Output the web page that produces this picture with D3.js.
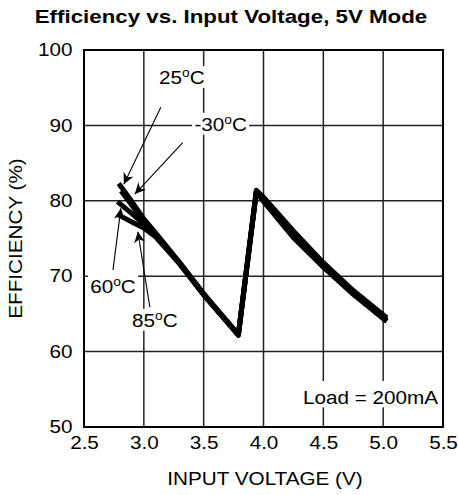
<!DOCTYPE html>
<html>
<head>
<meta charset="utf-8">
<script src="https://cdn.jsdelivr.net/npm/d3@7"></script>
<style>
    body { margin: 0; background: #fff; }
    svg text { font-family: "Liberation Sans", Arial, sans-serif; fill: #000; }
</style>
</head>
<body>
<div id="chart"></div>
<script>
// input voltage (V) and efficiency (%) for each temperature
var volt25 = [2.79, 2.9, 3.0, 3.1, 3.3, 3.5, 3.79, 3.94, 4.0, 4.25, 4.5, 4.75, 5.03];
var eff25 = [82.3, 79.9, 77.6, 75.7, 71.8, 67.7, 62.3, 81.4, 80.5, 76.0, 71.8, 68.1, 64.5];
var voltM30 = [2.81, 2.9, 3.0, 3.1, 3.3, 3.5, 3.79, 3.94, 4.0, 4.25, 4.5, 4.75, 5.03];
var effM30 = [81.3, 79.4, 77.2, 75.5, 71.7, 67.6, 62.2, 81.3, 80.2, 75.6, 71.5, 67.8, 64.2];
var volt60 = [2.78, 2.9, 3.0, 3.1, 3.3, 3.5, 3.79, 3.94, 4.0, 4.25, 4.5, 4.75, 5.03];
var eff60 = [79.9, 78.3, 76.9, 75.4, 71.7, 67.6, 62.2, 81.2, 80.0, 75.3, 71.3, 67.7, 64.1];
var volt85 = [2.78, 2.9, 3.0, 3.1, 3.3, 3.5, 3.79, 3.94, 4.0, 4.25, 4.5, 4.75, 5.03];
var eff85 = [78.2, 77.2, 76.4, 75.2, 71.6, 67.5, 62.2, 81.1, 79.9, 75.1, 71.2, 67.6, 64.0];

// axis ticks
var xTicks = [2.5, 3.0, 3.5, 4.0, 4.5, 5.0, 5.5];
var yTicks = [50, 60, 70, 80, 90, 100];

// temperature labels and arrows, in (V, %)
var tempNames = ["25", "-30", "60", "85"];
var tempLabelAt = [[3.317, 96.4], [3.642, 90.2], [2.742, 68.7], [3.092, 64.2]];
var tempArrowFrom = [[3.142, 92.4], [3.325, 87.7], [2.742, 70.8], [3.05, 65.9]];
var tempArrowTo = [[2.833, 82.2], [2.925, 80.9], [2.808, 79.0], [2.95, 75.9]];

window.onload = function() {
    var width = 458;
    var height = 495;
    var padding = {top: 50, bottom: 68, left: 84, right: 15};
    var fs = "18px";
    var sx = 1.15; // the lettering in the original is a bit wide

    var svg = d3.select("#chart").append("svg")
        .attr("width", width).attr("height", height);

    var xscale = d3.scaleLinear().domain([2.5, 5.5])
        .range([padding.left, width - padding.right]);
    var yscale = d3.scaleLinear().domain([50, 100])
        .range([height - padding.bottom, padding.top]);

    // put a text at x,y, stretched
    function label(parent, x, y, rot, stretch) {
        return parent.append("text")
            .attr("transform", "translate(" + x + "," + y + ")" + (rot ? " rotate(" + rot + ")" : "") +
                " scale(" + (stretch || sx) + ",1)")
            .style("font-size", fs);
    }

    // grid
    svg.append("g").selectAll("line").data(xTicks.slice(1, -1)).enter().append("line")
        .attr("x1", function(d) { return xscale(d); })
        .attr("x2", function(d) { return xscale(d); })
        .attr("y1", yscale(50)).attr("y2", yscale(100))
        .attr("stroke", "#222").attr("stroke-width", 1.5);
    svg.append("g").selectAll("line").data(yTicks.slice(1, -1)).enter().append("line")
        .attr("x1", xscale(2.5)).attr("x2", xscale(5.5))
        .attr("y1", function(d) { return yscale(d); })
        .attr("y2", function(d) { return yscale(d); })
        .attr("stroke", "#222").attr("stroke-width", 1.5);

    // tick labels
    var xaxis = d3.axisBottom(xscale).tickValues(xTicks).tickSize(0).tickPadding(9)
        .tickFormat(d3.format(".1f"));
    var gx = svg.append("g")
        .attr("transform", "translate(0," + yscale(50) + ")")
        .call(xaxis);
    gx.select(".domain").remove();
    gx.selectAll("text").style("font-size", fs)
        .style("font-family", "'Liberation Sans', Arial, sans-serif")
        .attr("transform", "scale(" + sx + ",1)");

    var yaxis = d3.axisLeft(yscale).tickValues(yTicks).tickSize(0).tickPadding(10);
    var gy = svg.append("g")
        .attr("transform", "translate(" + xscale(2.5) + ",0)")
        .call(yaxis);
    gy.select(".domain").remove();
    gy.selectAll("text").style("font-size", fs)
        .style("font-family", "'Liberation Sans', Arial, sans-serif")
        .attr("transform", "scale(" + sx + ",1)");

    // curves
    var line = d3.line()
        .x(function(d) { return xscale(d[0]); })
        .y(function(d) { return yscale(d[1]); });
    var series = [d3.zip(volt25, eff25), d3.zip(voltM30, effM30),
        d3.zip(volt60, eff60), d3.zip(volt85, eff85)];
    svg.append("g").selectAll("path").data(series).enter().append("path")
        .attr("d", line)
        .attr("fill", "none")
        .attr("stroke", "#000")
        .attr("stroke-width", 5)
        .attr("stroke-linejoin", "round");

    // legend box
    var lg = svg.append("g");
    lg.append("rect")
        .attr("x", xscale(4.26)).attr("y", yscale(56.1))
        .attr("width", xscale(5.5) - xscale(4.26)).attr("height", yscale(52.6) - yscale(56.1))
        .attr("fill", "#fff");
    label(lg, xscale(4.33), yscale(53.1)).text("Load = 200mA");

    // arrow head
    svg.append("defs").append("marker")
        .attr("id", "arrow")
        .attr("viewBox", "0 0 10 10")
        .attr("refX", 10).attr("refY", 5)
        .attr("markerWidth", 11).attr("markerHeight", 11)
        .attr("markerUnits", "userSpaceOnUse")
        .attr("orient", "auto")
        .append("path")
        .attr("d", "M0,0 L10,5 L0,10 L3,5 Z")
        .attr("fill", "#000");

    // temperature labels
    for (let i = 0; i < tempNames.length; i++) {
        svg.append("line")
            .attr("x1", xscale(tempArrowFrom[i][0])).attr("y1", yscale(tempArrowFrom[i][1]))
            .attr("x2", xscale(tempArrowTo[i][0])).attr("y2", yscale(tempArrowTo[i][1]))
            .attr("stroke", "#000").attr("stroke-width", 1.1)
            .attr("marker-end", "url(#arrow)");

        var g = svg.append("g");
        var bg = g.append("rect").attr("fill", "#fff");
        var t = label(g, xscale(tempLabelAt[i][0]), yscale(tempLabelAt[i][1]) + 7)
            .attr("text-anchor", "middle");
        t.append("tspan").text(tempNames[i]);
        t.append("tspan").attr("dy", -7).style("font-size", "12px").text("o");
        t.append("tspan").attr("dy", 7).text("C");

        var bb = t.node().getBBox();
        bg.attr("transform", t.attr("transform"))
            .attr("x", bb.x - 2).attr("y", bb.y)
            .attr("width", bb.width + 4).attr("height", bb.height);
    }

    // frame
    svg.append("rect")
        .attr("x", xscale(2.5)).attr("y", yscale(100))
        .attr("width", xscale(5.5) - xscale(2.5)).attr("height", yscale(50) - yscale(100))
        .attr("fill", "none").attr("stroke", "#000").attr("stroke-width", 2);

    // title
    label(svg, 231, 23, 0, 1.24)
        .attr("text-anchor", "middle")
        .style("font-weight", "bold")
        .text("Efficiency vs. Input Voltage, 5V Mode");

    // axis titles
    label(svg, 265, 485).attr("text-anchor", "middle").text("INPUT VOLTAGE (V)");
    label(svg, 22, yscale(75), -90).attr("text-anchor", "middle").text("EFFICIENCY (%)");
};
</script>
</body>
</html>
